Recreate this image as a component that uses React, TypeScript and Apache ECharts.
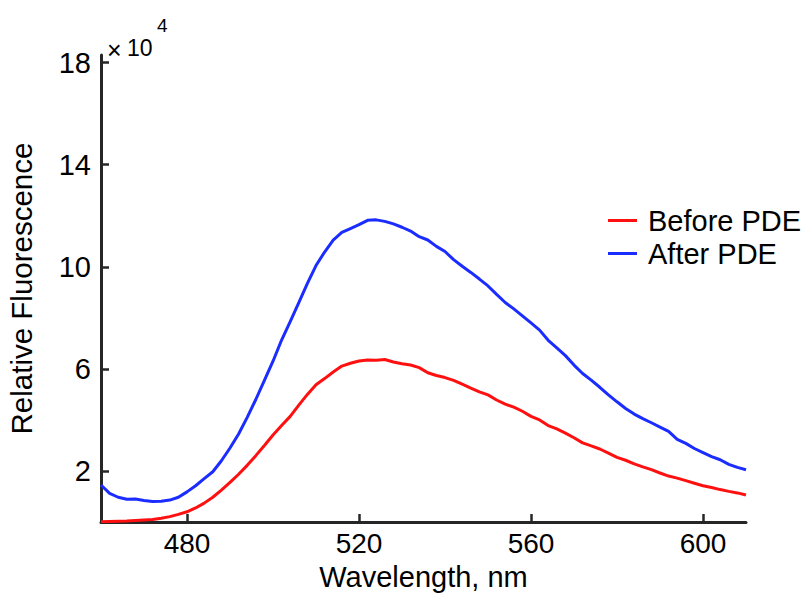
import React, { useEffect, useRef } from "react";
import * as echarts from "echarts";

const wavelengths: number[] = [
  460, 462, 464, 466, 468, 470, 472, 474, 476, 478, 480, 482, 484, 486, 488, 490, 492, 494, 496, 498,
  500, 502, 504, 506, 508, 510, 512, 514, 516, 518, 520, 522, 524, 526, 528, 530, 532, 534, 536, 538,
  540, 542, 544, 546, 548, 550, 552, 554, 556, 558, 560, 562, 564, 566, 568, 570, 572, 574, 576, 578,
  580, 582, 584, 586, 588, 590, 592, 594, 596, 598, 600, 602, 604, 606, 608, 610,
];

// Relative fluorescence, in units of 10^4
const beforePDE: number[] = [
  0.01, 0.02, 0.03, 0.04, 0.06, 0.08, 0.1, 0.15, 0.21, 0.3, 0.4, 0.55, 0.74, 0.97, 1.25, 1.55, 1.87, 2.22, 2.6, 3.0,
  3.41, 3.78, 4.14, 4.58, 5.0, 5.38, 5.62, 5.88, 6.11, 6.22, 6.31, 6.35, 6.34, 6.37, 6.27, 6.2, 6.15, 6.05, 5.85, 5.74,
  5.66, 5.55, 5.4, 5.25, 5.1, 4.98, 4.78, 4.62, 4.5, 4.34, 4.14, 4.0, 3.78, 3.65, 3.48, 3.3, 3.1, 2.98, 2.86, 2.7,
  2.53, 2.42, 2.28, 2.16, 2.05, 1.92, 1.8, 1.72, 1.62, 1.52, 1.42, 1.35, 1.27, 1.2, 1.14, 1.06,
];

const afterPDE: number[] = [
  1.45, 1.12, 0.97, 0.89, 0.9, 0.84, 0.8, 0.81, 0.86, 0.97, 1.18, 1.42, 1.7, 1.97, 2.4, 2.9, 3.45, 4.1, 4.8, 5.55,
  6.3, 7.13, 7.85, 8.6, 9.35, 10.05, 10.58, 11.05, 11.35, 11.5, 11.65, 11.82, 11.84, 11.78, 11.68, 11.55, 11.4, 11.18, 11.05, 10.8,
  10.6, 10.28, 10.02, 9.78, 9.52, 9.25, 8.92, 8.6, 8.35, 8.08, 7.8, 7.52, 7.12, 6.82, 6.52, 6.15, 5.82, 5.56, 5.28, 4.98,
  4.71, 4.45, 4.23, 4.05, 3.89, 3.72, 3.55, 3.24, 3.08, 2.88, 2.72, 2.56, 2.44, 2.26, 2.14, 2.05,
];

const xTicks: number[] = [480, 520, 560, 600];
const yTicks: number[] = [2, 6, 10, 14, 18];
const seriesNames: string[] = ["Before PDE", "After PDE"];

const FONT = "'Liberation Sans', Arial, Helvetica, sans-serif";
const AXIS_COLOR = "#262626";

export default function App() {
  const ref = useRef<HTMLDivElement>(null);

  useEffect(() => {
    document.body.style.margin = "0";
    if (!ref.current) return;
    const chart = echarts.init(ref.current, null, { renderer: "svg" });
    const pairs = (vals: number[]) => wavelengths.map((w, i) => [w, vals[i]]);

    chart.setOption({
      animation: false,
      backgroundColor: "#ffffff",
      textStyle: { fontFamily: FONT },
      grid: { left: 101, right: 60, top: 55, bottom: 71, containLabel: false, outerBoundsMode: "none" },
      legend: {
        data: seriesNames,
        orient: "vertical",
        left: 603,
        top: 199,
        itemGap: 0,
        itemWidth: 29,
        itemHeight: 3,
        icon: "rect",
        textStyle: { fontSize: 29, color: "#000", fontFamily: FONT, lineHeight: 33, padding: [0, 0, 0, 6] },
      },
      xAxis: {
        type: "value",
        min: 460,
        max: 610,
        name: "Wavelength, nm",
        nameLocation: "middle",
        nameGap: 36,
        nameTextStyle: { fontSize: 29, color: "#000", fontFamily: FONT, verticalAlign: "top", lineHeight: 30 },
        axisLine: { show: true, onZero: false, lineStyle: { color: AXIS_COLOR, width: 3 } },
        axisTick: { show: true, inside: true, length: 8, customValues: xTicks, lineStyle: { color: AXIS_COLOR, width: 2.5 } },
        axisLabel: { show: true, customValues: xTicks, margin: 7, fontSize: 28, color: "#000", fontFamily: FONT },
        splitLine: { show: false },
      },
      yAxis: {
        type: "value",
        min: 0,
        max: 18.3,
        name: "Relative Fluorescence",
        nameLocation: "middle",
        nameGap: 65,
        nameTextStyle: { fontSize: 29.5, color: "#000", fontFamily: FONT },
        axisLine: { show: true, onZero: false, lineStyle: { color: AXIS_COLOR, width: 3 } },
        axisTick: { show: true, inside: true, length: 8, customValues: yTicks, lineStyle: { color: AXIS_COLOR, width: 2.5 } },
        axisLabel: { show: true, customValues: yTicks, margin: 10, fontSize: 29, color: "#000", fontFamily: FONT },
        splitLine: { show: false },
      },
      graphic: [
        { type: "text", left: 107, top: 37, style: { text: "×", fontSize: 25, fill: "#000", fontFamily: FONT } },
        { type: "text", left: 127, top: 36, style: { text: "10", fontSize: 23, fill: "#000", fontFamily: FONT } },
        { type: "text", left: 157, top: 16, style: { text: "4", fontSize: 19, fill: "#000", fontFamily: FONT } },
      ],
      series: [
        {
          name: seriesNames[0],
          type: "line",
          data: pairs(beforePDE),
          showSymbol: false,
          symbol: "none",
          color: "#ff1010",
          lineStyle: { color: "#ff1010", width: 3 },
        },
        {
          name: seriesNames[1],
          type: "line",
          data: pairs(afterPDE),
          showSymbol: false,
          symbol: "none",
          color: "#1a2cff",
          lineStyle: { color: "#1a2cff", width: 3 },
        },
      ],
    });

    return () => chart.dispose();
  }, []);

  return <div ref={ref} style={{ width: 806, height: 593 }} />;
}
